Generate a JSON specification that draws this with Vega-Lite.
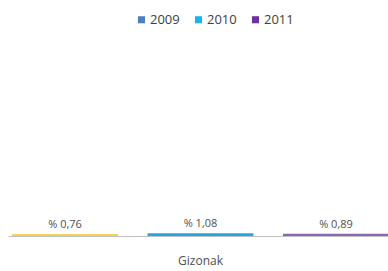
{
  "$schema": "https://vega.github.io/schema/vega-lite/v6.json",
  "autosize": {"type": "none"},
  "width": 385,
  "height": 201,
  "padding": {"left": 8, "top": 35, "right": 0, "bottom": 35},
  "background": "white",
  "config": {"view": {"stroke": null}, "font": "Open Sans"},
  "data": {"values": [
    {"group": "Gizonak", "year": "2009", "value": 0.76, "label": "% 0,76"},
    {"group": "Gizonak", "year": "2010", "value": 1.08, "label": "% 1,08"},
    {"group": "Gizonak", "year": "2011", "value": 0.89, "label": "% 0,89"}
  ]},
  "encoding": {
    "x": {"field": "group", "type": "nominal", "scale": {"padding": 0}, "axis": {"title": null, "labelAngle": 0, "ticks": false, "domainColor": "#c0c0c0", "labelColor": "#505050", "labelFontSize": 12, "labelPadding": 19, "labelFont": "Open Sans"}},
    "xOffset": {"field": "year", "type": "nominal", "scale": {"paddingInner": 0.218, "paddingOuter": 0.03}},
    "y": {"field": "value", "type": "quantitative", "scale": {"domain": [0, 80]}, "axis": null}
  },
  "layer": [
    {
      "mark": {"type": "bar"},
      "encoding": {
        "fill": {"field": "year", "type": "nominal", "scale": {"range": ["#f2d25a", "#1fa8e0", "#8a68b0"]}, "legend": null}
      }
    },
    {
      "mark": {"type": "point", "filled": true, "size": 0},
      "encoding": {
        "color": {"field": "year", "type": "nominal", "scale": {"range": ["#4f7fbf", "#19b4ef", "#7030a0"]},
          "legend": {"title": null, "orient": "none", "legendX": 127, "legendY": -22, "direction": "horizontal", "symbolType": "square", "symbolSize": 50, "symbolOpacity": 1, "symbolStrokeWidth": 0, "labelFontSize": 13, "labelColor": "#404040", "columnPadding": 12, "labelOffset": 2}}
      }
    },
    {
      "mark": {"type": "text", "dy": -9, "fontSize": 11, "color": "#505050"},
      "encoding": {"text": {"field": "label"}}
    }
  ]
}
